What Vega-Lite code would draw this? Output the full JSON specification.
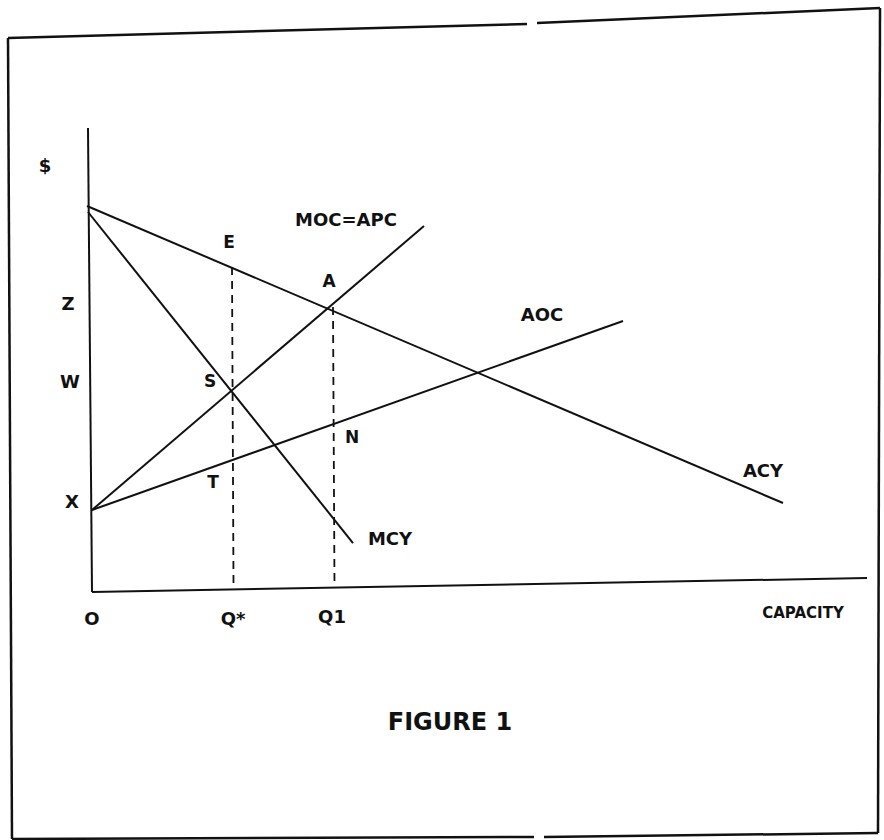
{
  "$schema": "https://vega.github.io/schema/vega-lite/v6.json",
  "width": 884,
  "height": 840,
  "autosize": {"type": "none"},
  "padding": 0,
  "background": "white",
  "config": {"view": {"stroke": null}},
  "datasets": {
    "lines": [
      {"series": "ACY", "kind": "solid", "order": 1, "x": -0.3, "y": 38.4},
      {"series": "ACY", "kind": "solid", "order": 2, "x": 69.3, "y": 8.7},
      {"series": "MCY", "kind": "solid", "order": 1, "x": -0.2, "y": 37.8},
      {"series": "MCY", "kind": "solid", "order": 2, "x": 26.3, "y": 4.7},
      {"series": "MOC=APC", "kind": "solid", "order": 1, "x": 0.2, "y": 8.0},
      {"series": "MOC=APC", "kind": "solid", "order": 2, "x": 33.4, "y": 36.4},
      {"series": "AOC", "kind": "solid", "order": 1, "x": 0.2, "y": 8.0},
      {"series": "AOC", "kind": "solid", "order": 2, "x": 53.3, "y": 26.9},
      {"series": "yaxis", "kind": "solid", "order": 1, "x": -0.2, "y": 46.2},
      {"series": "yaxis", "kind": "solid", "order": 2, "x": 0.2, "y": -0.2},
      {"series": "xaxis", "kind": "solid", "order": 1, "x": 0.2, "y": -0.2},
      {"series": "xaxis", "kind": "solid", "order": 2, "x": 77.7, "y": 1.2},
      {"series": "Qstar", "kind": "dashed", "order": 1, "x": 14.2, "y": 32.3},
      {"series": "Qstar", "kind": "dashed", "order": 2, "x": 14.35, "y": 0.5},
      {"series": "Q1", "kind": "dashed", "order": 1, "x": 24.3, "y": 28.3},
      {"series": "Q1", "kind": "dashed", "order": 2, "x": 24.45, "y": 0.3},
      {"series": "top1", "kind": "frame", "order": 1, "x": -8.2, "y": 55.2},
      {"series": "top1", "kind": "frame", "order": 2, "x": 43.7, "y": 56.6},
      {"series": "top2", "kind": "frame", "order": 1, "x": 44.7, "y": 56.7},
      {"series": "top2", "kind": "frame", "order": 2, "x": 79.0, "y": 58.2},
      {"series": "right", "kind": "frame", "order": 1, "x": 79.0, "y": 58.2},
      {"series": "right", "kind": "frame", "order": 2, "x": 78.8, "y": -24.3},
      {"series": "bottom1", "kind": "frame", "order": 1, "x": 78.8, "y": -24.3},
      {"series": "bottom1", "kind": "frame", "order": 2, "x": 45.4, "y": -24.7},
      {"series": "bottom2", "kind": "frame", "order": 1, "x": 44.4, "y": -24.7},
      {"series": "bottom2", "kind": "frame", "order": 2, "x": -7.8, "y": -24.9},
      {"series": "left", "kind": "frame", "order": 1, "x": -7.8, "y": -24.9},
      {"series": "left", "kind": "frame", "order": 2, "x": -8.2, "y": 55.2}
    ],
    "labels": [
      {"label": "$", "role": "axis", "x": -4.5, "y": 42.3},
      {"label": "Z", "role": "axis", "x": -2.2, "y": 28.5},
      {"label": "W", "role": "axis", "x": -2.0, "y": 20.7},
      {"label": "X", "role": "axis", "x": -1.8, "y": 8.7},
      {"label": "O", "role": "axis", "x": 0.2, "y": -3.0},
      {"label": "Q*", "role": "axis", "x": 14.3, "y": -3.0},
      {"label": "Q1", "role": "axis", "x": 24.2, "y": -2.8},
      {"label": "CAPACITY", "role": "axistitle", "x": 71.3, "y": -2.3},
      {"label": "E", "role": "point", "x": 13.9, "y": 34.7},
      {"label": "A", "role": "point", "x": 23.9, "y": 30.8},
      {"label": "S", "role": "point", "x": 12.0, "y": 20.8},
      {"label": "T", "role": "point", "x": 12.3, "y": 10.7},
      {"label": "N", "role": "point", "x": 26.2, "y": 15.2},
      {"label": "MOC=APC", "role": "curve", "x": 25.6, "y": 36.9},
      {"label": "AOC", "role": "curve", "x": 45.2, "y": 27.4},
      {"label": "ACY", "role": "curve", "x": 67.3, "y": 11.8},
      {"label": "MCY", "role": "curve", "x": 30.0, "y": 5.0},
      {"label": "FIGURE 1", "role": "title", "x": 36.0, "y": -13.3}
    ]
  },
  "layer": [
    {
      "data": {"name": "lines"},
      "transform": [{"filter": "datum.kind === 'solid'"}],
      "mark": {"type": "line", "color": "#111111", "strokeWidth": 2},
      "encoding": {
        "x": {"field": "x", "type": "quantitative", "scale": {"domain": [-9, 79.4], "nice": false, "zero": false}, "axis": null},
        "y": {"field": "y", "type": "quantitative", "scale": {"domain": [-25, 59], "nice": false, "zero": false}, "axis": null},
        "detail": {"field": "series"},
        "order": {"field": "order"}
      }
    },
    {
      "data": {"name": "lines"},
      "transform": [{"filter": "datum.kind === 'frame'"}],
      "mark": {"type": "line", "color": "#111111", "strokeWidth": 2.5},
      "encoding": {
        "x": {"field": "x", "type": "quantitative"},
        "y": {"field": "y", "type": "quantitative"},
        "detail": {"field": "series"},
        "order": {"field": "order"}
      }
    },
    {
      "data": {"name": "lines"},
      "transform": [{"filter": "datum.kind === 'dashed'"}],
      "mark": {"type": "line", "color": "#111111", "strokeWidth": 1.8, "strokeDash": [8, 6]},
      "encoding": {
        "x": {"field": "x", "type": "quantitative"},
        "y": {"field": "y", "type": "quantitative"},
        "detail": {"field": "series"},
        "order": {"field": "order"}
      }
    },
    {
      "data": {"name": "labels"},
      "transform": [{"filter": "datum.role === 'axis'"}],
      "mark": {"type": "text", "font": "DejaVu Sans", "fontWeight": "bold", "fontSize": 18, "color": "#111111", "align": "center", "baseline": "middle"},
      "encoding": {
        "x": {"field": "x", "type": "quantitative"},
        "y": {"field": "y", "type": "quantitative"},
        "text": {"field": "label"}
      }
    },
    {
      "data": {"name": "labels"},
      "transform": [{"filter": "datum.role === 'axistitle'"}],
      "mark": {"type": "text", "font": "DejaVu Sans", "fontWeight": "bold", "fontSize": 15, "color": "#111111", "align": "center", "baseline": "middle"},
      "encoding": {
        "x": {"field": "x", "type": "quantitative"},
        "y": {"field": "y", "type": "quantitative"},
        "text": {"field": "label"}
      }
    },
    {
      "data": {"name": "labels"},
      "transform": [{"filter": "datum.role === 'point'"}],
      "mark": {"type": "text", "font": "DejaVu Sans", "fontWeight": "bold", "fontSize": 17, "color": "#111111", "align": "center", "baseline": "middle"},
      "encoding": {
        "x": {"field": "x", "type": "quantitative"},
        "y": {"field": "y", "type": "quantitative"},
        "text": {"field": "label"}
      }
    },
    {
      "data": {"name": "labels"},
      "transform": [{"filter": "datum.role === 'curve'"}],
      "mark": {"type": "text", "font": "DejaVu Sans", "fontWeight": "bold", "fontSize": 18, "color": "#111111", "align": "center", "baseline": "middle"},
      "encoding": {
        "x": {"field": "x", "type": "quantitative"},
        "y": {"field": "y", "type": "quantitative"},
        "text": {"field": "label"}
      }
    },
    {
      "data": {"name": "labels"},
      "transform": [{"filter": "datum.role === 'title'"}],
      "mark": {"type": "text", "font": "DejaVu Sans", "fontWeight": "bold", "fontSize": 24, "color": "#111111", "align": "center", "baseline": "middle"},
      "encoding": {
        "x": {"field": "x", "type": "quantitative"},
        "y": {"field": "y", "type": "quantitative"},
        "text": {"field": "label"}
      }
    }
  ]
}
